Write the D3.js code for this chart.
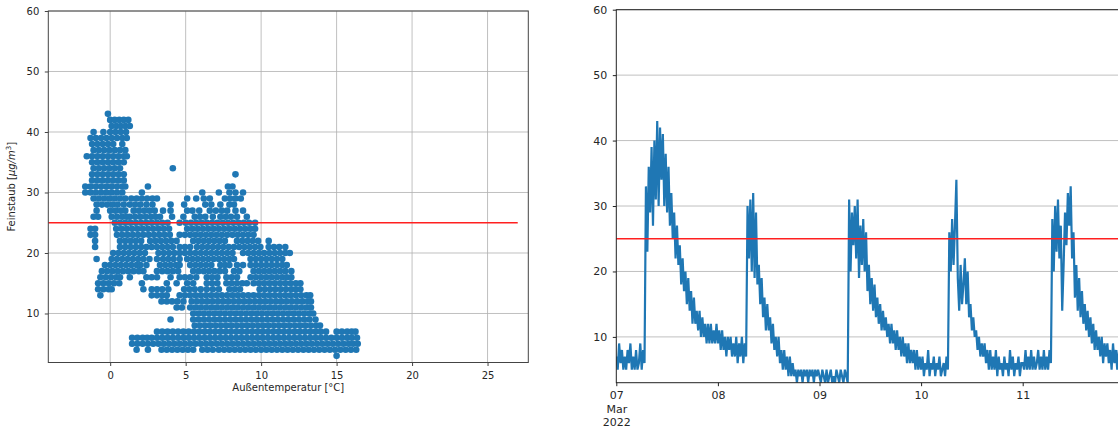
<!DOCTYPE html>
<html>
<head>
<meta charset="utf-8">
<script src="https://cdn.jsdelivr.net/npm/d3@7"></script>
<style>
  body { margin: 0; background: #fff; }
  svg { display: block; }
  text { font-family: "DejaVu Sans", sans-serif; fill: #262626; }
</style>
</head>
<body>
<svg width="1118" height="430"></svg>
<script>
// ---- data ----
var tempTicks = [0, 5, 10, 15, 20, 25];
var pmTicks = [10, 20, 30, 40, 50, 60];
var limitValue = 25;

// scatter: PM value (integer rows) and temperatures measured at that value
var pmLevels = [43, 42, 41, 40, 39, 38, 37, 36, 35, 34, 33, 32, 31, 30, 29, 28, 27, 26, 25, 24, 23, 22,
                21, 20, 19, 18, 17, 16, 15, 14, 13, 12, 11, 10, 9, 8, 7, 6, 5, 4, 3];
var tempsAtLevel = [
  "-0.15",
  "0 0.3 0.6 0.9 1.2",
  "0.1 0.4 0.7 1.0 1.3",
  "-1.1 -0.45 0 0.35 0.7 1.05",
  "-1.3 -0.95 -0.6 -0.25 0.1 0.45 0.8 1.1",
  "-1.2 -0.85 -0.5 -0.15 0.2 0.8",
  "-1.1 -0.75 -0.4 -0.05 0.3 0.65 1.0",
  "-1.55 -1.2 -0.85 -0.5 -0.15 0.2 0.55 0.9 1.1",
  "-1.2 -0.85 -0.5 -0.15 0.2 0.55 0.9",
  "-1.1 -0.75 -0.4 -0.05 0.3 0.65 4.15",
  "-1.2 -0.85 -0.5 -0.15 0.2 0.55 0.9 8.3",
  "-1.2 -0.85 -0.5 -0.15 0.2 0.55 0.9",
  "-1.65 -1.3 -0.95 -0.6 -0.25 0.1 0.45 0.8 1.0 2.5 7.8 8.1",
  "-1.65 -1.3 -0.95 -0.6 -0.25 0.1 0.45 0.8 2.1 6.1 7.2 7.9 8.3 8.8",
  "-1.1 -0.75 -0.4 -0.05 0.3 0.65 1.0 1.4 1.75 2.1 2.45 2.8 3.1 5.1 5.7 6.2 6.6 7.6 7.95 8.3 8.65",
  "-0.9 -0.55 -0.2 0.15 0.5 0.9 1.3 1.65 2.0 2.4 2.8 4.0 4.9 6.3 6.7 7.3 7.9 8.2",
  "-0.9 0 0.35 0.7 1.0 1.55 1.9 2.25 2.6 2.95 3.5 4.0 5.1 5.45 5.9 6.6 7.0 7.4 7.75 8.3 8.8",
  "-1.1 -0.8 0.1 0.45 0.8 1.1 1.3 1.65 2.0 2.35 2.7 3.0 3.3 4.1 4.85 5.6 5.95 6.3 6.8 7.3 7.65 8.0 8.4 9.05",
  "0.3 0.65 1.0 1.35 1.7 2.05 2.4 2.75 3.1 3.45 3.8 4.6 5.0 5.35 5.7 6.05 6.4 6.75 7.1 7.45 7.8 8.15 8.5 8.85 9.2 9.6",
  "-1.3 -1.0 0.4 0.75 1.1 1.45 1.8 2.15 2.5 2.85 3.2 3.55 3.9 5.1 5.45 5.8 6.15 6.5 6.85 7.2 7.55 7.9 8.25 8.6 8.95 9.3 9.6",
  "-1.3 -1.0 0.45 0.8 1.15 1.5 1.85 2.2 2.55 2.9 3.25 3.6 3.95 4.6 4.95 5.3 5.65 6.0 6.35 6.7 7.05 7.4 7.75 8.1 8.45 8.8 9.15 9.5",
  "-1.0 0.65 1.0 1.35 1.7 2.05 2.65 3.0 3.35 3.7 4.05 4.4 5.5 5.85 6.2 6.55 6.9 7.25 7.6 8.4 8.75 9.1 9.45 9.8 10.5",
  "-1.0 0.65 1.0 1.35 1.7 2.05 2.4 2.75 3.1 3.45 3.8 4.15 4.6 4.95 5.3 5.75 6.1 6.45 6.8 7.15 7.5 7.85 8.2 8.55 8.9 9.25 9.6 9.95 10.5 10.85 11.2 11.6",
  "0.2 0.55 0.9 1.25 1.6 1.95 2.3 3.2 3.55 3.9 4.25 4.6 4.95 5.3 5.65 6.0 6.35 6.7 7.05 7.4 7.75 8.1 8.8 9.15 9.5 9.85 10.2 10.55 10.9 11.25 11.6 11.9",
  "-0.9 0.1 0.45 0.8 1.15 1.5 1.85 2.2 2.6 3.1 3.5 3.85 4.2 4.6 5.1 5.45 5.8 6.15 6.5 6.85 7.2 7.55 7.9 8.2 9.3 9.65 10.0 10.35 10.7 11.05 11.4",
  "-0.35 0 0.35 0.7 1.05 1.4 1.75 2.0 2.4 3.3 3.65 4.0 4.35 4.6 5.3 5.65 6.0 6.35 6.7 7.3 7.6 7.9 8.4 8.8 9.3 9.65 10.0 10.35 10.7 11.05 11.4 11.7",
  "-0.55 -0.2 0.15 0.5 0.85 1.2 1.55 1.9 2.2 3.1 3.45 3.8 4.15 4.5 5.5 5.85 6.2 6.55 6.9 7.25 7.6 8.2 8.55 9.5 9.85 10.2 10.55 10.9 11.25 11.6 12.0",
  "-0.65 -0.3 0.05 0.4 0.65 1.3 2.4 2.75 3.1 4.0 4.6 4.95 5.3 5.7 6.4 6.75 7.1 7.7 8.05 8.4 9.3 9.65 10.0 10.35 10.7 11.05 11.4 11.7 12.0",
  "-0.8 -0.45 -0.1 0.25 0.6 2.1 3.75 4.4 5.1 5.5 6.4 6.75 7.1 7.7 8.05 8.4 8.75 9.05 9.5 9.85 10.2 10.55 10.9 11.25 11.6 11.95 12.3 12.6",
  "-0.8 -0.45 -0.1 0.1 2.2 2.75 3.1 3.45 3.85 4.9 5.25 5.6 6.0 6.4 6.8 7.2 7.9 8.25 8.6 9.9 10.25 10.6 10.95 11.3 11.65 12.0 12.3 12.6",
  "-0.65 2.75 3.1 3.45 3.75 4.6 4.95 5.3 5.65 6.0 6.35 6.7 7.05 7.4 7.75 8.1 8.45 8.8 9.15 9.5 9.85 10.2 10.55 10.9 11.25 11.6 11.95 12.3 12.65 13.0 13.25",
  "3.4 3.75 4.1 4.45 4.85 5.4 5.75 6.1 6.45 6.8 7.15 7.5 7.85 8.2 8.55 8.9 9.25 9.6 9.95 10.3 10.65 11.0 11.35 11.7 12.05 12.4 12.75 13.1 13.3",
  "4.4 4.75 5.3 5.65 6.0 6.35 6.7 7.05 7.4 7.75 8.1 8.45 8.8 9.15 9.5 9.85 10.2 10.55 10.9 11.25 11.6 11.95 12.3 12.65 13.0 13.3",
  "5.5 5.85 6.2 6.55 6.9 7.25 7.6 7.95 8.3 8.65 9.0 9.35 9.7 10.05 10.4 10.75 11.1 11.45 11.8 12.15 12.5 12.85 13.2 13.45",
  "4.0 5.5 5.85 6.2 6.55 6.9 7.25 7.6 7.95 8.3 8.65 9.0 9.35 9.7 10.05 10.4 10.75 11.1 11.45 11.8 12.15 12.5 12.85 13.2 13.6",
  "5.6 5.95 6.3 6.65 7.0 7.35 7.7 8.05 8.4 8.75 9.1 9.45 9.8 10.15 10.5 10.85 11.2 11.55 11.9 12.25 12.6 12.95 13.3 13.65 13.9",
  "3.1 3.45 3.8 4.15 4.5 4.85 5.2 5.55 5.9 6.25 6.6 6.95 7.3 7.65 8.0 8.35 8.7 9.05 9.4 9.75 10.1 10.45 10.8 11.15 11.5 11.85 12.2 12.55 12.9 13.25 13.6 13.95 14.3 15.0 15.35 15.7 16.0 16.25",
  "1.45 1.8 2.15 2.45 2.75 3.1 3.45 3.8 4.15 4.5 4.85 5.2 5.55 5.9 6.25 6.6 6.95 7.3 7.65 8.0 8.35 8.7 9.05 9.4 9.75 10.1 10.45 10.8 11.15 11.5 11.85 12.2 12.55 12.9 13.25 13.6 13.95 14.3 14.65 15.0 15.35 15.7 16.0 16.35",
  "1.45 1.8 2.15 2.5 2.85 3.2 3.55 3.9 4.25 4.6 4.95 5.3 5.65 6.0 6.35 6.7 7.05 7.4 7.75 8.1 8.45 8.8 9.15 9.5 9.85 10.2 10.55 10.9 11.25 11.6 11.95 12.3 12.65 13.0 13.35 13.7 14.05 14.4 14.75 15.1 15.45 15.8 16.1 16.4",
  "1.75 2.5 3.4 3.75 4.1 4.45 4.8 5.15 5.5 6.1 6.45 6.8 7.2 7.55 7.9 8.25 8.6 8.95 9.3 9.65 10.0 10.35 10.7 11.05 11.4 11.75 12.1 12.45 12.8 13.15 13.5 13.85 14.2 14.55 14.9 15.25 15.6 15.95 16.3",
  "15.0"
];

// time series: one reading every 20 minutes, one array per day (March 2022)
var seriesDays = [7, 8, 9, 10, 11];
var day07 = [7,5,9,6,8,5,7,5,8,6,9,5,7,5,8,5,6,9,5,8,6,
  33,23,36,29,39,27,40,31,43,30,42,
  34,41,30,38,29,36,27,32,25,29,22,27,21,24,18,22,17,20,15,19,14,17,12,16,12,14,11,14,10,13,10,12,9,12,9,12,9,11,9,12];
var day08 = [9,11,8,11,8,10,7,10,8,10,7,9,7,10,6,9,7,10,6,9,7,
  30,22,31,20,32,19,29,18,
  21,15,19,13,16,11,15,11,13,9,12,8,10,7,10,6,8,5,8,5,7,4,7,4,6,4,5,3,5,4,5,3,5,4,5,3,5,4,5,3,5,4,5];
var day09 = [4,3,5,4,3,5,3,4,5,3,4,3,5,4,3,5,4,3,5,4,3,
  31,20,29,24,30,22,31,19,27,21,28,20,26,
  17,21,15,19,14,18,13,16,12,15,11,14,11,13,10,12,9,12,9,11,8,11,8,10,7,10,7,9,6,9,6,8,6,8,5,8,5,7];
var day10 = [5,7,4,6,5,8,4,6,5,7,4,6,5,7,4,5,6,4,7,5,
  26,20,28,21,27,34,19,14,21,15,18,22,15,20,13,15,11,13,10,11,8,10,7,9,7,9,6,8,5,8,5,7,5,8,
  4,7,5,6,4,7,5,6,4,8,5,7,4,6,5,7,4,6];
var day11 = [6,5,8,5,7,5,8,5,7,5,6,8,5,7,5,8,5,7,5,8,6,
  28,20,30,23,31,22,27,14,21,29,24,32,27,33,22,26,16,21,14,19,13,17,12,15,11,14,10,13,9,12,8,11,8,10,7,10,6,9,7,9,6,8,5,9,6,8,5,8,6,7,6];
var seriesValues = [day07, day08, day09, day10, day11];
var dayTickLabels = [["07", "Mar", "2022"], ["08"], ["09"], ["10"], ["11"]];

// ---- setup ----
var svg = d3.select("svg");
var blue = "#1f77b4", red = "#ff2020", gridColor = "#b0b0b0";

// ================= left: scatter =================
var xT = d3.scaleLinear().domain([-4.1, 27.7]).range([48.3, 528.3]);
var yL = d3.scaleLinear().domain([1.9, 60]).range([362.5, 11]);

var left = svg.append("g");

left.append("g").selectAll("line").data(tempTicks).enter().append("line")
  .attr("x1", function (d) { return xT(d); }).attr("x2", function (d) { return xT(d); })
  .attr("y1", yL.range()[0]).attr("y2", yL.range()[1])
  .attr("stroke", gridColor).attr("stroke-width", 0.8);
left.append("g").selectAll("line").data(pmTicks).enter().append("line")
  .attr("y1", function (d) { return yL(d); }).attr("y2", function (d) { return yL(d); })
  .attr("x1", xT.range()[0]).attr("x2", xT.range()[1])
  .attr("stroke", gridColor).attr("stroke-width", 0.8);

var scatterPoints = [];
pmLevels.forEach(function (v, i) {
  tempsAtLevel[i].split(" ").forEach(function (t) {
    scatterPoints.push({ t: +t, v: v });
  });
});

left.append("g").selectAll("circle").data(scatterPoints).enter().append("circle")
  .attr("cx", function (d) { return xT(d.t); })
  .attr("cy", function (d) { return yL(d.v); })
  .attr("r", 3.3)
  .attr("fill", blue);

left.append("line")
  .attr("x1", xT(-4.1)).attr("x2", xT(27.0))
  .attr("y1", yL(limitValue)).attr("y2", yL(limitValue))
  .attr("stroke", red).attr("stroke-width", 1.6);

var axL = left.append("g").attr("transform", "translate(0," + yL.range()[0] + ")")
  .call(d3.axisBottom(xT).tickValues(tempTicks).tickFormat(d3.format("d")).tickSize(3.5).tickPadding(5.5));
var ayL = left.append("g").attr("transform", "translate(" + xT.range()[0] + ",0)")
  .call(d3.axisLeft(yL).tickValues(pmTicks).tickFormat(d3.format("d")).tickSize(3.5).tickPadding(5.5));
[axL, ayL].forEach(function (a) {
  a.select(".domain").remove();
  a.selectAll("line").attr("stroke", "#444");
  a.selectAll("text").attr("font-size", 10).attr("font-family", "DejaVu Sans").attr("fill", "#262626");
});

left.append("rect")
  .attr("x", xT.range()[0]).attr("y", yL.range()[1])
  .attr("width", xT.range()[1] - xT.range()[0]).attr("height", yL.range()[0] - yL.range()[1])
  .attr("fill", "none").attr("stroke", "#444").attr("stroke-width", 1);

left.append("text")
  .attr("x", (xT.range()[0] + xT.range()[1]) / 2).attr("y", 391)
  .attr("text-anchor", "middle").attr("font-size", 10)
  .text("Außentemperatur [°C]");

var yLabel = left.append("text")
  .attr("transform", "translate(15," + (yL.range()[0] + yL.range()[1]) / 2 + ") rotate(-90)")
  .attr("text-anchor", "middle").attr("font-size", 10);
yLabel.append("tspan").text("Feinstaub [");
yLabel.append("tspan").attr("font-style", "italic").text("μg/m");
yLabel.append("tspan").attr("font-size", 7).attr("dy", -4).text("3");
yLabel.append("tspan").attr("dy", 4).text("]");

// ================= right: time series =================
var x0 = 616.3, dayPx = 101.6;
var xD = d3.scaleUtc()
  .domain([new Date(Date.UTC(2022, 2, 7)), new Date(Date.UTC(2022, 2, 12, 6))])
  .range([x0, x0 + dayPx * 5.25]);
var yR = d3.scaleLinear().domain([3, 60]).range([382.7, 9.7]);

var right = svg.append("g");

right.append("g").selectAll("line").data(pmTicks).enter().append("line")
  .attr("y1", function (d) { return yR(d); }).attr("y2", function (d) { return yR(d); })
  .attr("x1", xD.range()[0]).attr("x2", xD.range()[1])
  .attr("stroke", gridColor).attr("stroke-width", 0.8);

var series = [];
seriesDays.forEach(function (day, k) {
  seriesValues[k].forEach(function (v, i) {
    series.push({ t: new Date(Date.UTC(2022, 2, day) + i * 20 * 60000), v: v });
  });
});

right.append("clipPath").attr("id", "clipR").append("rect")
  .attr("x", xD.range()[0]).attr("y", yR.range()[1])
  .attr("width", xD.range()[1] - xD.range()[0]).attr("height", yR.range()[0] - yR.range()[1]);

right.append("path")
  .datum(series)
  .attr("clip-path", "url(#clipR)")
  .attr("fill", "none").attr("stroke", blue).attr("stroke-width", 2.2)
  .attr("stroke-linejoin", "miter")
  .attr("d", d3.line().x(function (d) { return xD(d.t); }).y(function (d) { return yR(d.v); }));

right.append("line")
  .attr("x1", xD.range()[0]).attr("x2", xD.range()[1])
  .attr("y1", yR(limitValue)).attr("y2", yR(limitValue))
  .attr("stroke", red).attr("stroke-width", 1.6);

var tickDates = seriesDays.map(function (d) { return new Date(Date.UTC(2022, 2, d)); });
var axR = right.append("g").attr("transform", "translate(0," + yR.range()[0] + ")")
  .call(d3.axisBottom(xD).tickValues(tickDates).tickFormat(function () { return ""; }).tickSize(3.5).tickPadding(5.5));
axR.selectAll(".tick text").each(function (d, i) {
  var t = d3.select(this);
  dayTickLabels[i].forEach(function (s, j) {
    t.append("tspan").attr("x", 0).attr("dy", j === 0 ? "0.71em" : "1.2em").text(s);
  });
});
var ayR = right.append("g").attr("transform", "translate(" + xD.range()[0] + ",0)")
  .call(d3.axisLeft(yR).tickValues(pmTicks).tickFormat(d3.format("d")).tickSize(3.5).tickPadding(5.5));
[axR, ayR].forEach(function (a) {
  a.select(".domain").remove();
  a.selectAll("line").attr("stroke", "#222");
  a.selectAll("text").attr("font-size", 11).attr("font-family", "DejaVu Sans").attr("fill", "#262626");
});

right.append("rect")
  .attr("x", xD.range()[0]).attr("y", yR.range()[1])
  .attr("width", xD.range()[1] - xD.range()[0]).attr("height", yR.range()[0] - yR.range()[1])
  .attr("fill", "none").attr("stroke", "#222").attr("stroke-width", 1);
</script>
</body>
</html>
